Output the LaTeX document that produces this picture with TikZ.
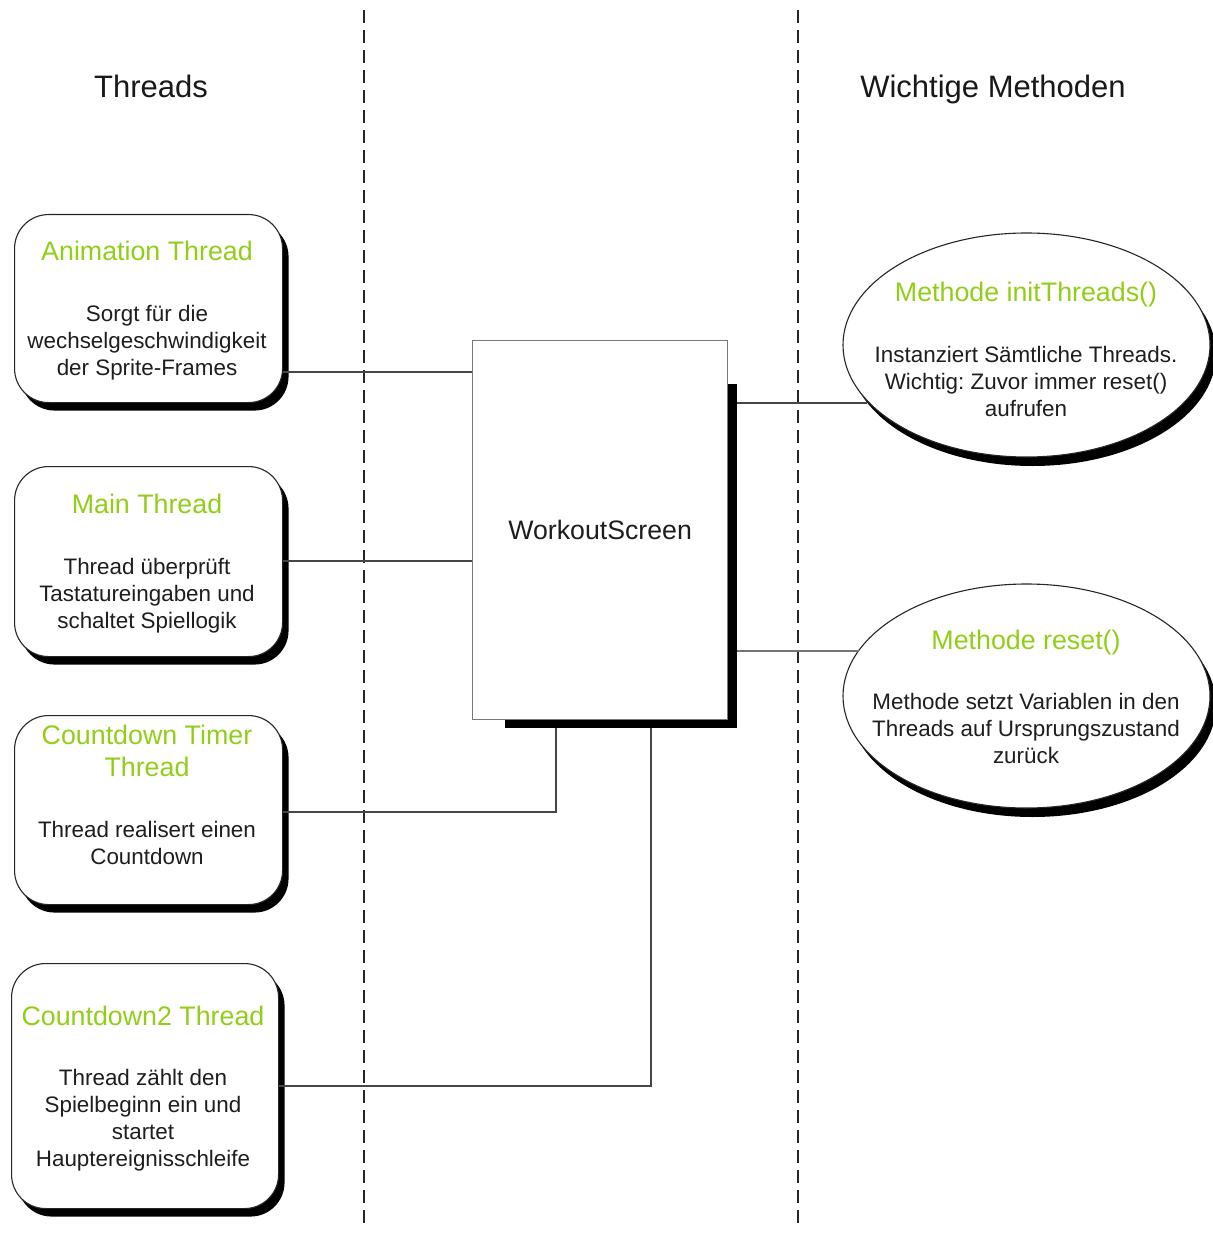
\documentclass[tikz,border=0pt]{standalone}
\usepackage{fontspec}
\setmainfont{Liberation Sans}
\usetikzlibrary{shapes.geometric,shadows,backgrounds,calc}
\frenchspacing

\definecolor{titlegreen}{RGB}{146,206,24}
\definecolor{bodytext}{RGB}{30,30,30}
\definecolor{linegray}{RGB}{70,70,70}
\definecolor{framegray}{RGB}{120,120,120}

\begin{document}
\begin{tikzpicture}[x=1pt,y=-1pt,
  threadbox/.style={draw=black!85, line width=1.1pt, fill=white,
    rounded corners=34pt, minimum width=268pt, anchor=north west,
    inner sep=0pt,
    drop shadow={shadow xshift=6pt, shadow yshift=-8pt, fill=black, opacity=1}},
  methodell/.style={ellipse, draw=black!85, line width=1.1pt, fill=white,
    minimum width=367pt, minimum height=224pt, inner sep=0pt,
    drop shadow={shadow xshift=6pt, shadow yshift=-9pt, fill=black, opacity=1}},
  screenbox/.style={draw=framegray, line width=1.3pt, fill=white,
    minimum width=255pt, minimum height=379pt, anchor=north west,
    text=bodytext, font=\fontsize{26.7}{32}\selectfont},
  header/.style={text=black!90, font=\fontsize{31}{37}\selectfont,
    inner sep=0pt, anchor=base},
  titletext/.style={text=titlegreen, align=center,
    font=\fontsize{26.8}{32}\selectfont, inner sep=0pt},
  bodytxt/.style={text=bodytext, align=center,
    font=\fontsize{22.4}{27}\selectfont, inner sep=0pt},
  conn/.style={draw=linegray, line width=1.3pt},
  lane/.style={draw=black!85, line width=1.8pt, dash pattern=on 13pt off 7pt}
]
\useasboundingbox (0,0) rectangle (1212,1233);
\begin{scope}[on background layer]
  \fill[white] (0,0) rectangle (1212,1233);
\end{scope}

% swimlane separators
\coordinate (laneAtop) at (364,10);
\coordinate (laneAbot) at (364,1230);
\coordinate (laneBtop) at (798,10);
\coordinate (laneBbot) at (798,1230);
\draw[lane] (laneAtop) -- (laneAbot);
\draw[lane] (laneBtop) -- (laneBbot);

% column headers
\node[header] (hThreads) at (151,97.5) {Threads};
\node[header] (hMethods) at (993,97.5) {Wichtige Methoden};

% thread boxes
\node[threadbox, minimum height=188pt] (anim) at (14,214) {};
\node[threadbox, minimum height=190pt] (mainth) at (14,466) {};
\node[threadbox, minimum height=189pt] (cdt) at (14,715) {};
\node[threadbox, minimum width=267pt, minimum height=245pt] (cdtwo) at (11,963) {};

\node[titletext] (animT) at (147,251) {Animation Thread};
\node[bodytxt] (animB) at (147,343) {Sorgt für die\\wechselgeschwindigkeit\\der Sprite-Frames};

\node[titletext] (mainT) at (147,504) {Main Thread};
\node[bodytxt] (mainB) at (147,596) {Thread überprüft\\Tastatureingaben und\\schaltet Spiellogik};

\node[titletext] (cdtT) at (147,751) {Countdown Timer\\Thread};
\node[bodytxt] (cdtB) at (147,843) {Thread realisert einen\\Countdown};

\node[titletext] (cdtwoT) at (143,1016) {Countdown2 Thread};
\node[bodytxt] (cdtwoB) at (143,1120) {Thread zählt den\\Spielbeginn ein und\\startet\\Hauptereignisschleife};

% central screen with its offset shadow
\node[screenbox] (ws) at (472,340) {WorkoutScreen};
\begin{scope}[on background layer]
  \fill[black] ($(ws.south west)+(33,8)$) rectangle ($(ws.north east)+(9,44)$);
\end{scope}

% method ellipses
\node[methodell] (init) at (1026.5,345) {};
\node[methodell] (reset) at (1026.5,696) {};

\node[titletext] (initT) at (1026,295) {Methode initThreads()};
\node[bodytxt] (initB) at (1026,381) {Instanziert Sämtliche Threads.\\Wichtig: Zuvor immer reset()\\aufrufen};

\node[titletext] (resetT) at (1026,643) {Methode reset()};
\node[bodytxt] (resetB) at (1026,728.5) {Methode setzt Variablen in den\\Threads auf Ursprungszustand\\zurück};

% connectors
\draw[conn] (anim.east |- 0,372) -- (ws.west |- 0,372);
\draw[conn] (mainth.east |- 0,561) -- (ws.west |- 0,561);
\draw[conn] (cdt.east |- 0,812) -| ($(ws.south west)+(84,8)$);
\draw[conn] (cdtwo.east |- 0,1086) -| ($(ws.south west)+(179,8)$);
\draw[conn] ($(ws.north east)+(9,63)$) -- ($(init.center)+(-160,58)$);
\draw[conn, draw=linegray!75] ($(ws.north east)+(9,311)$) -- ($(reset.center)+(-168,-45)$);
\end{tikzpicture}
\end{document}
